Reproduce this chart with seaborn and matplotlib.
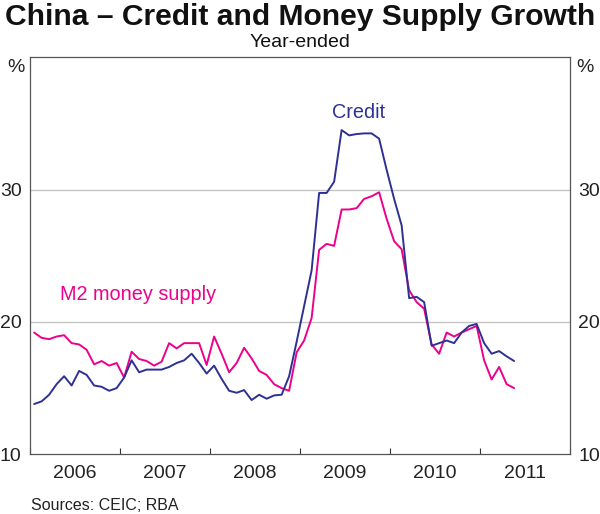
import numpy as np
import pandas as pd
import matplotlib
matplotlib.use("Agg")
import matplotlib.pyplot as plt
import seaborn as sns

# monthly year-ended growth, Jan 2006 - May 2011 (%)
credit = [
    13.8, 14.0, 14.5, 15.3, 15.9, 15.2, 16.3, 16.0, 15.2, 15.1, 14.8, 15.0,  # 2006
    15.8, 17.1, 16.2, 16.4, 16.4, 16.4, 16.6, 16.9, 17.1, 17.6, 16.9, 16.1,  # 2007
    16.7, 15.7, 14.8, 14.65, 14.85, 14.1, 14.5, 14.2, 14.45, 14.5, 15.9, 18.5,  # 2008
    21.2, 23.9, 29.75, 29.75, 30.6, 34.5, 34.1, 34.2, 34.25, 34.25, 33.85, 31.5,  # 2009
    29.3, 27.3, 21.8, 21.9, 21.5, 18.2, 18.4, 18.6, 18.4, 19.2, 19.7, 19.85,  # 2010
    18.4, 17.6, 17.8, 17.4, 17.05,  # 2011
]
m2 = [
    19.2, 18.8, 18.7, 18.9, 19.0, 18.4, 18.3, 17.9, 16.8, 17.05, 16.7, 16.9,
    15.8, 17.75, 17.2, 17.05, 16.7, 17.0, 18.4, 18.0, 18.4, 18.4, 18.4, 16.75,
    18.9, 17.6, 16.2, 16.9, 18.05, 17.25, 16.3, 16.0, 15.3, 15.0, 14.8, 17.7,
    18.6, 20.3, 25.45, 25.9, 25.75, 28.5, 28.5, 28.6, 29.3, 29.5, 29.8, 27.8,
    26.1, 25.5, 22.4, 21.5, 21.0, 18.3, 17.6, 19.2, 18.9, 19.2, 19.45, 19.7,
    17.1, 15.65, 16.6, 15.3, 15.0,
]
years = [2006, 2007, 2008, 2009, 2010, 2011]
yticks = [10, 20, 30]

# mid-month positions as fractional years
months = np.arange(len(credit))
xpos = 2006 + (months + 0.55) / 12

df = pd.DataFrame({
    "x": np.concatenate([xpos, xpos]),
    "value": credit + m2,
    "series": ["Credit"] * len(credit) + ["M2 money supply"] * len(m2),
})

sns.set_style("white")
plt.rcParams["font.family"] = ["Liberation Sans", "DejaVu Sans"]

W, H = 600, 514
fig = plt.figure(figsize=(W / 100, H / 100), dpi=100)
ax = fig.add_axes([30 / W, 1 - 454.3 / H, 540 / W, (454.3 - 57.3) / H])

navy = "#2e3192"
magenta = "#ec008c"

for y in [20, 30]:
    ax.axhline(y, color="#c4c4c4", lw=1.0, zorder=0)

sns.lineplot(data=df, x="x", y="value", hue="series",
             palette={"Credit": navy, "M2 money supply": magenta},
             hue_order=["M2 money supply", "Credit"],
             linewidth=1.4, legend=False, ax=ax)

ax.set_xlim(2006, 2012)
ax.set_ylim(10, 40)
ax.set_xlabel("")
ax.set_ylabel("")

# year boundary ticks (inside), labels at mid-year
ax.set_xticks(range(2006, 2013))
ax.set_xticklabels([])
ax.set_xticks([y + 0.5 for y in years], minor=True)
ax.set_xticklabels([str(y) for y in years], minor=True)
ax.tick_params(axis="x", which="major", direction="in", length=4.5, width=0.8,
               color="#333333", bottom=True)
ax.tick_params(axis="x", which="minor", length=0, labelsize=14, pad=8,
               labelcolor="#222222")

ax.set_yticks(yticks)
ax.set_yticklabels([str(v) for v in yticks])
ax.tick_params(axis="y", length=0, labelsize=14, pad=6, labelcolor="#222222",
               labelleft=True, labelright=True)

for s in ax.spines.values():
    s.set_color("#555555")
    s.set_linewidth(0.9)

def px(x, y):
    return x / W, 1 - y / H

fig.text(*px(300, 25), "China \u2013 Credit and Money Supply Growth",
         ha="center", va="baseline", fontsize=21.6, weight="bold", color="#111111")
fig.text(*px(300, 47), "Year-ended", ha="center", va="baseline",
         fontsize=14, color="#111111")
fig.text(*px(16, 71.5), "%", ha="center", va="baseline", fontsize=14, color="#222222")
fig.text(*px(585, 71.5), "%", ha="center", va="baseline", fontsize=14, color="#222222")
fig.text(*px(359, 118.3), "Credit", ha="center", va="baseline",
         fontsize=14.3, color=navy)
fig.text(*px(60, 300), "M2 money supply", ha="left", va="baseline",
         fontsize=14.3, color=magenta)
fig.text(*px(31, 510.5), "Sources: CEIC; RBA", ha="left", va="baseline",
         fontsize=11.5, color="#222222")

fig.savefig("out.png", dpi=100)
